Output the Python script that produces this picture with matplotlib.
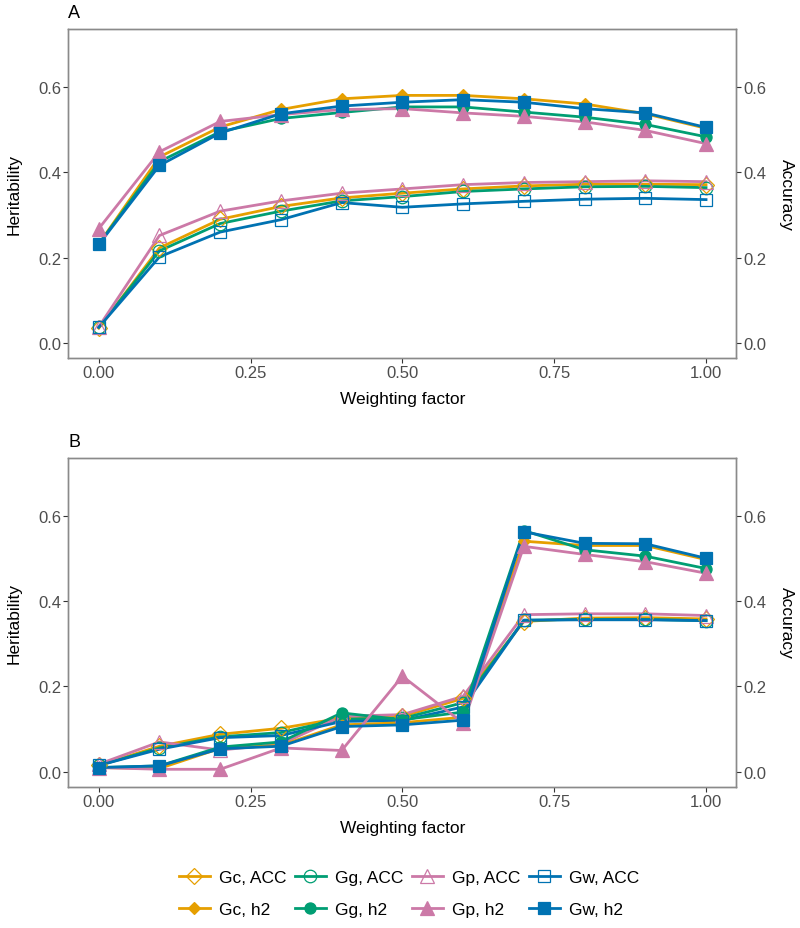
import numpy as np
import matplotlib.pyplot as plt
from matplotlib.lines import Line2D

plt.rcParams['font.family'] = ['Liberation Sans', 'DejaVu Sans']

# weighting factor
x = [0.0, 0.1, 0.2, 0.3, 0.4, 0.5, 0.6, 0.7, 0.8, 0.9, 1.0]

# Panel A
gc_acc_a = [0.035, 0.223, 0.290, 0.320, 0.340, 0.351, 0.361, 0.368, 0.372, 0.372, 0.371]
gg_acc_a = [0.037, 0.216, 0.280, 0.309, 0.333, 0.343, 0.355, 0.361, 0.366, 0.367, 0.364]
gp_acc_a = [0.038, 0.252, 0.309, 0.333, 0.351, 0.361, 0.371, 0.376, 0.378, 0.380, 0.378]
gw_acc_a = [0.037, 0.202, 0.260, 0.289, 0.329, 0.318, 0.326, 0.332, 0.337, 0.339, 0.336]
gc_h2_a = [0.232, 0.436, 0.506, 0.547, 0.572, 0.580, 0.580, 0.572, 0.560, 0.537, 0.503]
gg_h2_a = [0.232, 0.425, 0.495, 0.526, 0.540, 0.553, 0.553, 0.541, 0.529, 0.512, 0.483]
gp_h2_a = [0.268, 0.448, 0.519, 0.535, 0.547, 0.549, 0.539, 0.531, 0.518, 0.498, 0.467]
gw_h2_a = [0.231, 0.416, 0.492, 0.537, 0.555, 0.564, 0.570, 0.564, 0.549, 0.539, 0.505]

# Panel B
gc_acc_b = [0.015, 0.060, 0.088, 0.102, 0.126, 0.130, 0.172, 0.352, 0.360, 0.361, 0.358]
gg_acc_b = [0.015, 0.056, 0.082, 0.092, 0.124, 0.125, 0.162, 0.355, 0.357, 0.357, 0.354]
gp_acc_b = [0.018, 0.070, 0.051, 0.065, 0.130, 0.134, 0.177, 0.368, 0.370, 0.370, 0.366]
gw_acc_b = [0.015, 0.053, 0.080, 0.085, 0.118, 0.120, 0.152, 0.355, 0.356, 0.356, 0.354]
gc_h2_b = [0.010, 0.008, 0.055, 0.062, 0.110, 0.115, 0.128, 0.540, 0.530, 0.530, 0.497]
gg_h2_b = [0.010, 0.014, 0.058, 0.070, 0.138, 0.122, 0.140, 0.565, 0.520, 0.505, 0.476]
gp_h2_b = [0.010, 0.006, 0.006, 0.056, 0.050, 0.224, 0.114, 0.528, 0.509, 0.492, 0.465]
gw_h2_b = [0.010, 0.014, 0.054, 0.060, 0.106, 0.110, 0.121, 0.562, 0.535, 0.534, 0.500]

# style per series: label, colour, marker, size, filled
styles = [
    ("Gc, ACC", "#E69F00", "D", 8, False),
    ("Gg, ACC", "#009E73", "o", 9, False),
    ("Gp, ACC", "#CC79A7", "^", 10, False),
    ("Gw, ACC", "#0072B2", "s", 9, False),
    ("Gc, h2", "#E69F00", "D", 6, True),
    ("Gg, h2", "#009E73", "o", 8, True),
    ("Gp, h2", "#CC79A7", "^", 10, True),
    ("Gw, h2", "#0072B2", "s", 8, True),
]

panels = [
    ("A", [gc_acc_a, gg_acc_a, gp_acc_a, gw_acc_a, gc_h2_a, gg_h2_a, gp_h2_a, gw_h2_a]),
    ("B", [gc_acc_b, gg_acc_b, gp_acc_b, gw_acc_b, gc_h2_b, gg_h2_b, gp_h2_b, gw_h2_b]),
]

fig = plt.figure(figsize=(8, 9.29), dpi=100)
boxes = [[0.0855, 0.6135, 0.835, 0.354], [0.0855, 0.152, 0.835, 0.354]]

border = "#8a8a8a"
tickc = "#4D4D4D"

for (tag, series), box in zip(panels, boxes):
    ax = fig.add_axes(box)
    for (lab, col, mk, ms, filled), y in zip(styles, series):
        ax.plot(x, y, color=col, lw=2.0, zorder=2)
    for (lab, col, mk, ms, filled), y in zip(styles, series):
        ax.plot(x, y, ls="none", marker=mk, ms=ms, mec=col, mew=0.9,
                mfc=col if filled else "none", zorder=3)
    ax.set_xlim(-0.05, 1.05)
    ax.set_ylim(-0.035, 0.735)
    ax.set_xticks([0, 0.25, 0.5, 0.75, 1.0])
    ax.set_xticklabels(["0.00", "0.25", "0.50", "0.75", "1.00"])
    ax.set_yticks([0, 0.2, 0.4, 0.6])
    ax.set_yticklabels(["0.0", "0.2", "0.4", "0.6"])
    ax.tick_params(length=3.5, width=0.8, color="#333333", labelcolor=tickc,
                   labelsize=12, pad=1.5)
    ax.set_xlabel("Weighting factor", fontsize=12.5, labelpad=8)
    ax.set_ylabel("Heritability", fontsize=12.5, labelpad=12)
    for sp in ax.spines.values():
        sp.set_color(border)
        sp.set_linewidth(1.0)

    ax2 = ax.twinx()
    ax2.set_ylim(ax.get_ylim())
    ax2.set_yticks([0, 0.2, 0.4, 0.6])
    ax2.set_yticklabels(["0.0", "0.2", "0.4", "0.6"])
    ax2.tick_params(length=3.5, width=0.8, color="#333333", labelcolor=tickc,
                    labelsize=12, pad=1.5)
    ax2.set_ylabel("Accuracy", fontsize=12.5, rotation=270, labelpad=20)
    for sp in ax2.spines.values():
        sp.set_color(border)
        sp.set_linewidth(1.0)

    ax.text(0.0, 1.025, tag, transform=ax.transAxes, fontsize=13,
            ha="left", va="bottom")

# legend: column-major fill, so interleave ACC / h2
handles = []
labels = []
for i in range(4):
    for j in (i, i + 4):
        lab, col, mk, ms, filled = styles[j]
        handles.append(Line2D([0], [0], color=col, lw=2.0, marker=mk, ms=ms,
                              mec=col, mew=0.9, mfc=col if filled else "none"))
        labels.append(lab)

fig.legend(handles, labels, loc="center", bbox_to_anchor=(0.511, 0.037),
           ncol=4, frameon=False, fontsize=12.5, handlelength=1.8,
           handletextpad=0.5, columnspacing=0.5, labelspacing=1.0)

fig.savefig("out.png", dpi=100)
